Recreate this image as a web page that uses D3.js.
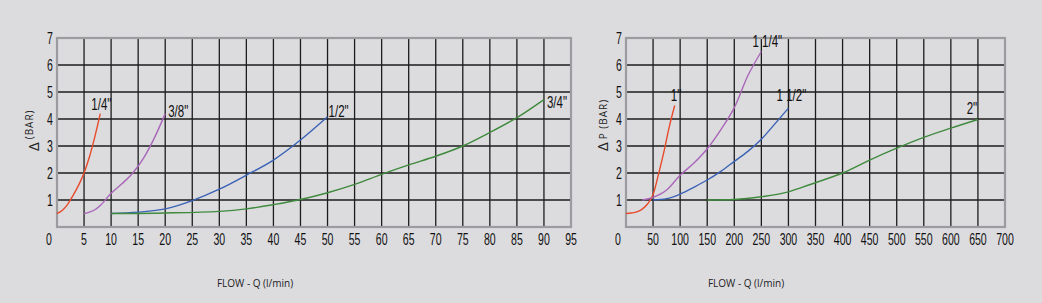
<!DOCTYPE html>
<html lang="en">
<head>
  <meta charset="UTF-8">
  <title>Pressure drop vs flow</title>
  <style>
    body { margin: 0; background-color: #dcdcdf; }
    svg { display: block; }
    .tick-label { font-family: "Liberation Sans", Arial, sans-serif; font-size: 16px; fill: #111; }
    .size-label { font-family: "Liberation Sans", Arial, sans-serif; font-size: 16px; fill: #111; }
    .axis-title { font-family: "Open Sans", "DejaVu Sans", sans-serif; font-size: 10px; fill: #222; }
  </style>
  <script src="https://d3js.org/d3.v7.min.js"></script>
</head>
<body>
  <svg id="chart" width="1042" height="303"></svg>

  <script>
    // flow ticks and pressure ticks
    const leftFlowTicks = d3.range(0, 96, 5);
    const rightFlowTicks = d3.range(0, 701, 50);
    const barTicks = [1, 2, 3, 4, 5, 6, 7];

    // curves for the small sizes, [flow l/min, delta p bar]
    const size14 = [[0, 0.5], [1, 0.62], [2, 0.85], [3, 1.18], [4, 1.55], [5, 2.0], [6, 2.6], [7, 3.35], [8, 4.2]];
    const size38 = [[5, 0.5], [6, 0.55], [7, 0.64], [8, 0.8], [10, 1.25], [12, 1.6], [14, 2.0], [16, 2.55], [18, 3.3], [20, 4.2]];
    const size12 = [[10, 0.5], [15, 0.55], [20, 0.67], [25, 0.98], [30, 1.4], [35, 1.92], [40, 2.48], [45, 3.22], [50, 4.08]];
    const size34 = [[10, 0.5], [20, 0.52], [30, 0.58], [35, 0.67], [40, 0.83], [45, 1.02], [50, 1.27], [55, 1.58], [60, 1.95], [65, 2.3], [70, 2.62], [75, 3.0], [80, 3.5], [85, 4.05], [90, 4.72]];

    // curves for the big sizes
    const size1 = [[0, 0.5], [10, 0.52], [20, 0.56], [30, 0.66], [40, 0.86], [50, 1.2], [60, 1.95], [70, 2.78], [80, 3.72], [90, 4.5]];
    const size114 = [[30, 1.0], [50, 1.1], [75, 1.37], [100, 1.92], [125, 2.36], [150, 2.9], [175, 3.6], [200, 4.42], [225, 5.6], [250, 6.5]];
    const size112 = [[50, 1.0], [75, 1.05], [100, 1.22], [125, 1.47], [150, 1.74], [175, 2.06], [200, 2.43], [225, 2.8], [250, 3.25], [275, 3.82], [300, 4.4]];
    const size2 = [[150, 1.0], [200, 1.02], [250, 1.12], [300, 1.3], [325, 1.47], [350, 1.64], [400, 2.0], [450, 2.48], [500, 2.92], [550, 3.32], [600, 3.66], [650, 3.98]];

    const svg = d3.select('#chart');
    const plotTop = 38, plotBottom = 227;

    // condensed look: place text by transform and squeeze it horizontally
    function squeeze(sel, px, py, sx) {
      sel.attr('transform', (d, i, n) => `translate(${px(d, i, n)},${py(d, i, n)}) scale(${sx},1)`);
    }

    function drawPanel(opts) {
      const x = d3.scaleLinear().domain(opts.xDomain).range([opts.x0, opts.x1]);
      const y = d3.scaleLinear().domain([0, 7]).range([plotBottom, plotTop]);
      const g = svg.append('g');

      // grid
      g.append('g').selectAll('line')
        .data(opts.xTicks.filter(d => d > opts.xDomain[0] && d < opts.xDomain[1]))
        .join('line')
        .attr('x1', d => x(d)).attr('x2', d => x(d))
        .attr('y1', plotTop).attr('y2', plotBottom)
        .attr('stroke', '#1c1c1c').attr('stroke-width', 1.3);
      g.append('g').selectAll('line')
        .data(barTicks.filter(d => d < 7))
        .join('line')
        .attr('x1', opts.x0).attr('x2', opts.x1)
        .attr('y1', d => y(d)).attr('y2', d => y(d))
        .attr('stroke', '#1c1c1c').attr('stroke-width', 1.3);

      g.append('rect')
        .attr('x', opts.x0).attr('y', plotTop)
        .attr('width', opts.x1 - opts.x0).attr('height', plotBottom - plotTop)
        .attr('fill', 'none').attr('stroke', '#9c9c9e').attr('stroke-width', 2.2);

      // tick labels
      g.append('g').selectAll('text')
        .data(opts.xTicks)
        .join('text')
        .attr('class', 'tick-label')
        .attr('text-anchor', 'middle')
        .text(d => d)
        .call(squeeze, d => d === 0 ? x(d) - 8 : x(d), () => plotBottom + 18, 0.66);
      g.append('g').selectAll('text')
        .data(barTicks)
        .join('text')
        .attr('class', 'tick-label')
        .attr('text-anchor', 'end')
        .text(d => d)
        .call(squeeze, () => opts.x0 - 4, d => y(d) + 6, 0.66);

      // curves
      const line = d3.line()
        .x(d => x(d[0]))
        .y(d => y(d[1]))
        .curve(d3.curveMonotoneX);
      opts.series.forEach(s => {
        g.append('path')
          .datum(s.data)
          .attr('d', line)
          .attr('fill', 'none')
          .attr('stroke', s.color)
          .attr('stroke-width', 1.4);
        const last = s.data[s.data.length - 1];
        g.append('text')
          .attr('class', 'size-label')
          .attr('text-anchor', s.anchor || 'start')
          .text(s.name)
          .call(squeeze, () => x(last[0]) + s.dx, () => y(last[1]) + s.dy, 0.72);
      });

      // axis titles
      const yt = g.append('text')
        .attr('class', 'axis-title')
        .attr('transform', `translate(${opts.x0 - 18},${opts.yTitleY}) rotate(-90)`);
      yt.append('tspan').attr('font-size', '15px').text('\u0394');
      yt.append('tspan').attr('dx', 3).attr('dy', opts.subDy).attr('letter-spacing', 1).text(opts.yTitle);

      g.append('text')
        .attr('class', 'axis-title')
        .attr('x', opts.xTitleX)
        .attr('y', 287)
        .attr('text-anchor', 'middle')
        .text('FLOW - Q (l/min)');
    }

    drawPanel({
      x0: 57, x1: 571, xDomain: [0, 95], xTicks: leftFlowTicks,
      yTitle: '(BAR)', yTitleY: 151, subDy: -6, xTitleX: 255,
      series: [
        { name: '1/4"', data: size14, color: '#e84a2c', dx: -9, dy: -4 },
        { name: '3/8"', data: size38, color: '#a966b8', dx: 3, dy: 3 },
        { name: '1/2"', data: size12, color: '#3a62b6', dx: 1, dy: 0 },
        { name: '3/4"', data: size34, color: '#3f8a3c', dx: 3, dy: 8 }
      ]
    });

    drawPanel({
      x0: 626, x1: 1005, xDomain: [0, 700], xTicks: rightFlowTicks,
      yTitle: 'P (BAR)', yTitleY: 151, subDy: -1, xTitleX: 746,
      series: [
        { name: '1"', data: size1, color: '#e84a2c', dx: -4, dy: -5 },
        { name: '1 1/4"', data: size114, color: '#a966b8', dx: 6, dy: -5, anchor: 'middle' },
        { name: '1 1/2"', data: size112, color: '#3a62b6', dx: 3, dy: -7, anchor: 'middle' },
        { name: '2"', data: size2, color: '#3f8a3c', dx: -6, dy: -6, anchor: 'middle' }
      ]
    });
  </script>
</body>
</html>
